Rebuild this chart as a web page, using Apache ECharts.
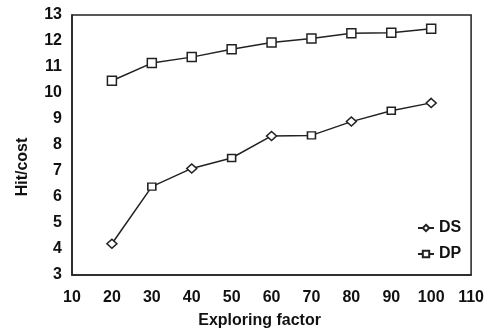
<!DOCTYPE html>
<html>
<head>
<meta charset="utf-8">
<script src="https://cdn.jsdelivr.net/npm/echarts@6/dist/echarts.min.js"></script>
<style>
html, body { margin: 0; padding: 0; background: #fff; }
#chart { width: 487px; height: 334px; }
</style>
</head>
<body>
<div id="chart"></div>
<script>
// x values (exploring factor)
var factors = [20, 30, 40, 50, 60, 70, 80, 90, 100];
// hit/cost
var dsValues = [4.2, 6.4, 7.1, 7.5, 8.35, 8.37, 8.9, 9.32, 9.62];
var dpValues = [10.47, 11.15, 11.38, 11.68, 11.94, 12.1, 12.3, 12.32, 12.47];

var fontFam = '"Liberation Sans", Arial, sans-serif';

function pairs(vals) {
    return factors.map(function (f, i) { return [f, vals[i]]; });
}
// the scanned figure alternates marker shapes along the DS line
function dsPoints() {
    return factors.map(function (f, i) {
        if (i % 2 === 1) return { value: [f, dsValues[i]], symbol: 'rect', symbolSize: [8, 7] };
        return { value: [f, dsValues[i]] };
    });
}

var option = {
    animation: false,
    backgroundColor: '#fff',
    grid: {
        left: 72, right: 13, top: 15, bottom: 57,
        show: true,
        borderColor: '#222',
        borderWidth: 1.5
    },
    legend: {
        orient: 'vertical',
        left: 412,
        top: 215,
        itemWidth: 16,
        itemHeight: 8,
        itemGap: 10,
        textStyle: { fontFamily: fontFam, fontWeight: 'bold', fontSize: 16, color: '#111' },
        data: ['DS', 'DP']
    },
    xAxis: {
        type: 'value',
        min: 10, max: 110, interval: 10,
        name: 'Exploring factor',
        nameLocation: 'middle',
        nameGap: 38,
        nameTextStyle: { fontFamily: fontFam, fontWeight: 'bold', fontSize: 16, color: '#111', padding: [0, 24, 0, 0] },
        axisLine: { lineStyle: { color: '#222', width: 1.5 } },
        axisTick: { show: false },
        splitLine: { show: false },
        axisLabel: { fontFamily: fontFam, fontWeight: 'bold', fontSize: 16, color: '#111', margin: 15 }
    },
    yAxis: {
        type: 'value',
        min: 3, max: 13, interval: 1,
        name: 'Hit/cost',
        nameLocation: 'middle',
        nameRotate: 90,
        nameGap: 41,
        nameTextStyle: { fontFamily: fontFam, fontWeight: 'bold', fontSize: 16, color: '#111', padding: [0, 44, 0, 0] },
        axisLine: { lineStyle: { color: '#222', width: 1.5 } },
        axisTick: { show: false },
        splitLine: { show: false },
        axisLabel: { fontFamily: fontFam, fontWeight: 'bold', fontSize: 16, color: '#111', margin: 10 }
    },
    series: [{
        name: 'DS',
        type: 'line',
        data: dsPoints(),
        symbol: 'diamond',
        symbolSize: [10, 9],
        showAllSymbol: true,
        lineStyle: { color: '#222', width: 1.5 },
        itemStyle: { color: '#fff', borderColor: '#222', borderWidth: 1.5 }
    }, {
        name: 'DP',
        type: 'line',
        data: pairs(dpValues),
        symbol: 'rect',
        symbolSize: 9,
        showAllSymbol: true,
        lineStyle: { color: '#222', width: 1.5 },
        itemStyle: { color: '#fff', borderColor: '#222', borderWidth: 1.5 }
    }]
};

var myChart = echarts.init(document.getElementById('chart'));
myChart.setOption(option);
window.addEventListener('resize', function () {
    myChart.resize();
}, false);
</script>
</body>
</html>
